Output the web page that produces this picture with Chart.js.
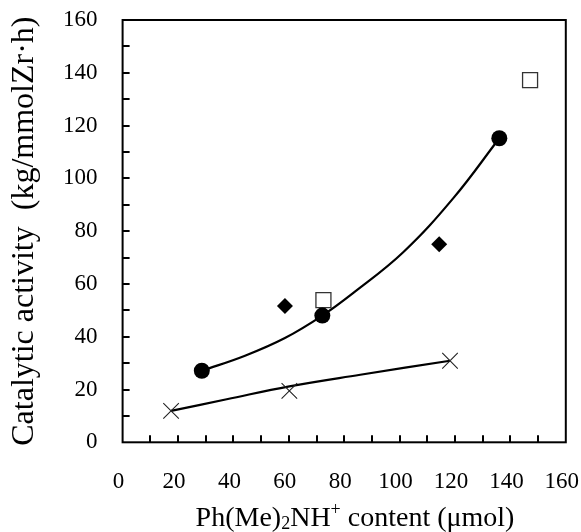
<!DOCTYPE html>
<html><head><meta charset="utf-8">
<script src="https://cdn.jsdelivr.net/npm/chart.js@4/dist/chart.umd.min.js"></script>
<style>html,body{margin:0;padding:0;background:#fff}#wrap{width:581px;height:532px;position:relative}</style>
</head><body><div id="wrap"><canvas id="c"></canvas></div>
<script>
// ---- data ----
const xTickValues = [0, 20, 40, 60, 80, 100, 120, 140, 160];
const yTickValues = [0, 20, 40, 60, 80, 100, 120, 140, 160];

const circleX = [28.6, 72.1, 136.0];
const circleY = [27.1, 48.0, 115.2];

const squareX = [72.5, 147.1];
const squareY = [53.9, 137.2];

const diamondX = [58.6, 114.3];
const diamondY = [51.6, 75.0];

const crossX = [17.5, 60.2, 118.2];
const crossY = [11.9, 19.5, 30.9];

// trend curves
const circleFitX = [28.6, 44.2, 58.6, 72.1, 83.3, 101.3, 119.4, 136.0];
const circleFitY = [27.1, 32.8, 39.5, 48.0, 56.6, 72.0, 92.5, 115.2];
const crossFitX = [17.5, 37.6, 60.2, 85.8, 118.2];
const crossFitY = [11.9, 16.3, 21.2, 25.6, 30.9];

const xTitleParts = [
  {t: 'Ph(Me)', k: 'n'}, {t: '2', k: 'sub'}, {t: 'NH', k: 'n'}, {t: '+', k: 'sup'},
  {t: ' content (\u03bcmol)', k: 'n'}
];
const yTitle = 'Catalytic activity  (kg/mmolZr\u00b7h)';

const pts = (xs, ys) => xs.map((x, i) => ({x: x, y: ys[i]}));
const FONT = "'Liberation Serif', 'Times New Roman', serif";

const frameAndTicks = {
  id: 'frameAndTicks',
  afterDatasetsDraw(chart) {
    const {ctx, chartArea: a, scales: {x, y}} = chart;
    ctx.save();
    ctx.strokeStyle = '#000';
    ctx.lineWidth = 2;
    ctx.strokeRect(a.left, a.top, a.right - a.left, a.bottom - a.top);
    ctx.beginPath();
    for (let v = x.min + 10; v < x.max; v += 10) {
      const px = Math.round(x.getPixelForValue(v));
      ctx.moveTo(px, a.bottom); ctx.lineTo(px, a.bottom - 7);
    }
    for (let v = y.min + 10; v < y.max; v += 10) {
      const py = Math.round(y.getPixelForValue(v));
      ctx.moveTo(a.left, py); ctx.lineTo(a.left + 7, py);
    }
    ctx.stroke();
    // x axis title with subscript / superscript
    const big = '28px ' + FONT, small = '18px ' + FONT;
    let total = 0;
    xTitleParts.forEach(p => { ctx.font = p.k === 'n' ? big : small; p.w = ctx.measureText(p.t).width; total += p.w; });
    let cx = 355 - total / 2;
    const base = 526;
    ctx.fillStyle = '#000';
    ctx.textBaseline = 'alphabetic';
    ctx.textAlign = 'left';
    xTitleParts.forEach(p => {
      ctx.font = p.k === 'n' ? big : small;
      const dy = p.k === 'sub' ? 3 : (p.k === 'sup' ? -11 : 0);
      ctx.fillText(p.t, cx, base + dy);
      cx += p.w;
    });
    ctx.restore();
  }
};

new Chart(document.getElementById('c'), {
  type: 'scatter',
  data: {
    datasets: [
      {label: 'circles', data: pts(circleX, circleY), pointStyle: 'circle', pointRadius: 8, pointHoverRadius: 8,
       backgroundColor: '#000', borderColor: '#000', borderWidth: 0, order: 1},
      {label: 'diamonds', data: pts(diamondX, diamondY), pointStyle: 'rectRot', pointRadius: 8, pointHoverRadius: 8,
       backgroundColor: '#000', borderColor: '#000', borderWidth: 0, order: 2},
      {label: 'crosses', data: pts(crossX, crossY), pointStyle: 'crossRot', pointRadius: 11, pointHoverRadius: 11,
       backgroundColor: '#000', borderColor: '#222', borderWidth: 1.1, order: 3},
      {type: 'line', label: 'circleFit', data: pts(circleFitX, circleFitY), showLine: true, pointRadius: 0,
       borderColor: '#000', borderWidth: 2.2, fill: false, tension: 0.4, order: 5},
      {type: 'line', label: 'crossFit', data: pts(crossFitX, crossFitY), showLine: true, pointRadius: 0,
       borderColor: '#000', borderWidth: 2.2, fill: false, tension: 0.4, order: 5},
      {label: 'squares', data: pts(squareX, squareY), pointStyle: 'rect', pointRadius: 10.6, pointHoverRadius: 10.6,
       backgroundColor: '#fff', borderColor: '#333', borderWidth: 1.3, order: 8}
    ]
  },
  options: {
    responsive: true,
    maintainAspectRatio: false,
    animation: false,
    events: [],
    layout: {padding: {left: 0, top: 20, right: 15.2, bottom: 0}},
    plugins: {legend: {display: false}, tooltip: {enabled: false}},
    scales: {
      x: {
        type: 'linear', min: 0, max: 160,
        afterBuildTicks: s => { s.ticks = xTickValues.map(v => ({value: v})); },
        afterFit: s => { s.height = 532 - 442.3; s.paddingLeft = 0; s.paddingRight = 0; },
        grid: {display: false, drawTicks: false},
        border: {display: false},
        ticks: {font: {family: FONT, size: 23}, color: '#000', padding: 26, labelOffset: -4, maxRotation: 0}
      },
      y: {
        type: 'linear', min: 0, max: 160,
        afterBuildTicks: s => { s.ticks = yTickValues.map(v => ({value: v})); },
        afterFit: s => { s.width = 122.6; s.paddingTop = 0; s.paddingBottom = 0; },
        grid: {display: false, drawTicks: false},
        border: {display: false},
        ticks: {font: {family: FONT, size: 23}, color: '#000', padding: 25},
        title: {display: true, text: yTitle, color: '#000', font: {family: FONT, size: 32}, padding: {top: 5, bottom: 0}}
      }
    }
  },
  plugins: [frameAndTicks]
});
</script>
</body></html>
